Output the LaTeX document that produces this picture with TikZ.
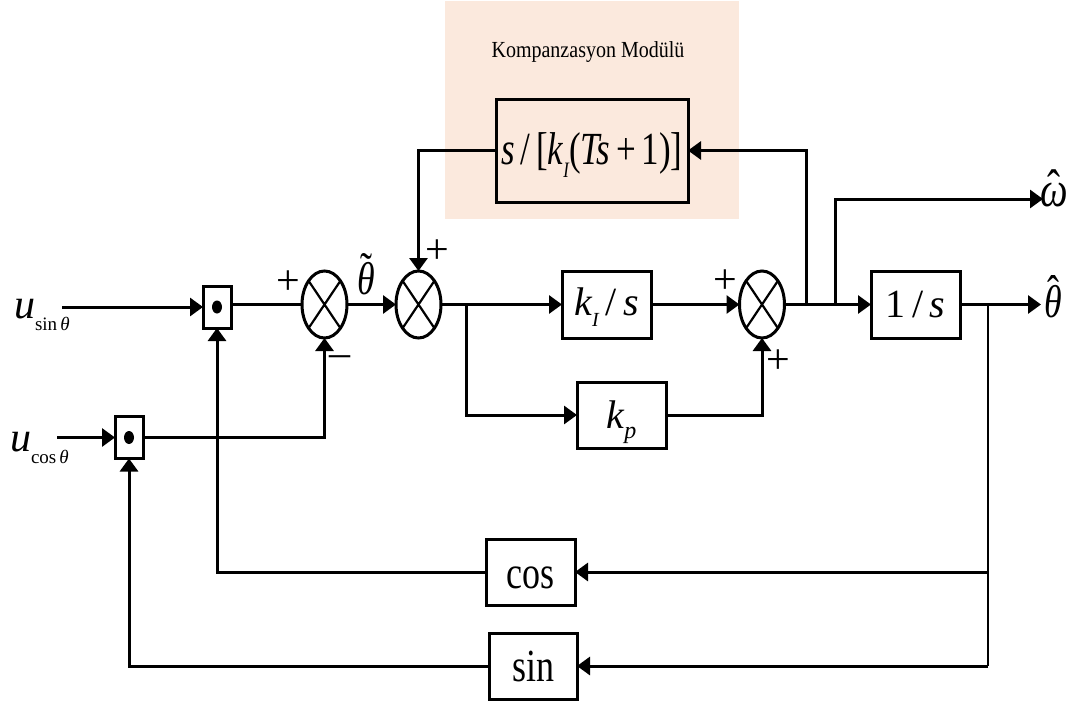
\documentclass[tikz,border=0pt]{standalone}
\usepackage{fontspec}
\usepackage{graphicx}
\setmainfont{Liberation Serif}
\usetikzlibrary{arrows.meta,shapes.geometric,calc}
\definecolor{peach}{HTML}{FBE9DD}
\newcommand{\fs}[1]{\fontsize{#1}{#1}\selectfont}
\newcommand{\accd}[3]{\scalebox{0.78}[1]{\ooalign{#3\cr\hfil\raisebox{#2}{\upshape #1}\hfil\cr}}}
\newcommand{\drop}[2]{\raisebox{-#1}[0pt][0pt]{#2}}
\tikzset{
 wire/.style={line width=3pt,line join=miter},
 thinwire/.style={line width=2.2pt},
 arr/.style={wire,-{Triangle[length=13pt,width=18pt]}},
 blockbox/.style={draw,line width=3pt,inner sep=0pt,outer sep=0pt,fill=white,font=\fs{40}},
 sumnode/.style={draw,ellipse,line width=3pt,inner sep=0pt,outer sep=0pt,minimum width=45pt,minimum height=67pt},
 txt/.style={inner sep=0pt,outer sep=0pt},
 signlabel/.style={txt,font=\fs{42}},
}
\newcommand{\sumx}[1]{\draw[line width=2.2pt] (#1.north west) -- (#1.south east) (#1.north east) -- (#1.south west);}
\begin{document}
\begin{tikzpicture}[x=1pt,y=-1pt]
\useasboundingbox (0,0) rectangle (1074,704);
\fill[peach] (445,1) rectangle (739,219);
\node[txt,font=\fs{23}] (title) at (588,52) {\scalebox{0.87}[1]{Kompanzasyon Modülü}};
\node[blockbox,fill=none,minimum width=192pt,minimum height=103pt,font=\fs{46}] (comp) at (592,150.5) {\drop{14pt}{\makebox[0pt]{\scalebox{0.76}[1]{\itshape s\,\upshape/\,[\itshape k\raisebox{-0.28em}{\fs{22}I}\upshape(\itshape Ts\upshape\,+\,1)]}}}};
\node[blockbox,minimum width=28pt,minimum height=42pt] (d1) at (217,307) {};
\node[blockbox,minimum width=28pt,minimum height=42pt] (d2) at (129,437.5) {};
\fill (d1.center) ellipse (5pt and 6.5pt) (d2.center) ellipse (5pt and 6.5pt);
\node[sumnode] (s1) at (324.5,304.5) {}; \sumx{s1}
\node[sumnode] (s2) at (418.5,304.5) {}; \sumx{s2}
\node[sumnode] (s3) at (762,304.5) {}; \sumx{s3}
\node[blockbox,minimum width=89pt,minimum height=67pt] (ki) at (606.5,304.5) {\drop{11pt}{\makebox[0pt]{\itshape k\raisebox{-0.28em}{\fs{20}I}\,\upshape/\,\itshape s}}};
\node[blockbox,minimum width=89pt,minimum height=66pt] (kp) at (621.5,415) {\drop{13pt}{\makebox[0pt]{\itshape k\raisebox{-0.25em}{\fs{24}p}}}};
\node[blockbox,minimum width=89pt,minimum height=67pt] (int) at (915.5,304.5) {\drop{13pt}{\makebox[0pt]{1\,/\,\itshape s}}};
\node[blockbox,minimum width=89pt,minimum height=66pt] (cosb) at (530.5,572) {\drop{16pt}{\makebox[0pt]{\scalebox{0.9}[1.15]{cos}}}};
\node[blockbox,minimum width=88pt,minimum height=66pt] (sinb) at (533,666) {\drop{15pt}{\makebox[0pt]{\scalebox{0.9}[1.15]{sin}}}};
% labels
\node[txt,anchor=base west,font=\fs{42}] (us) at (14,318) {\itshape u\raisebox{-0.3em}{\fs{19}\upshape sin\,\itshape θ}};
\node[txt,anchor=base west,font=\fs{42}] (uc) at (10,451) {\itshape u\raisebox{-0.3em}{\fs{19}\upshape cos\,\itshape θ}};
\coordinate (usin) at (62,307);
\coordinate (ucos) at (57,437.5);
\node[txt,font=\fs{46}\itshape] (thtilde) at (366,278) {\accd{˜}{0.2em}{θ}};
\node[txt,font=\fs{50}\itshape] (omhat) at (1054,195) {\accd{ˆ}{0.04em}{ω}};
\node[txt,font=\fs{46}\itshape] (thhat) at (1053,301) {\accd{ˆ}{0.2em}{θ}};
\coordinate (wend) at (1043,199);
\coordinate (tend) at (1041,304.5);
\node[signlabel] (p1) at (288,283) {+};
\node[signlabel] (p2) at (437,252) {+};
\node[signlabel] (p3) at (725,282) {+};
\node[signlabel] (p4) at (778,362) {+};
\node[signlabel] (m1) at (340,361) {–};
% junctions
\coordinate (jb) at (466,304.5);
\coordinate (jf) at (806,304.5);
\coordinate (jw) at (835,304.5);
\coordinate (jt) at (988,304.5);
\coordinate (jc) at (988,572);
\coordinate (js) at (988,666);
% connectors
\draw[arr] (usin) -- (d1.west);
\draw[arr] (ucos) -- (d2.west);
\draw[wire] (d1.east |- s1.west) -- (s1.west);
\draw[arr] (d2.east) -| (s1.south);
\draw[arr] (s1.east) -- (s2.west);
\draw[arr] (comp.west) -| (s2.north);
\draw[arr] (s2.east) -- (ki.west);
\draw[arr] (jb) |- (kp.west);
\draw[arr] (ki.east) -- (s3.west);
\draw[arr] (kp.east) -| (s3.south);
\draw[arr] (s3.east) -- (int.west);
\draw[arr] (jf) |- (comp.east);
\draw[arr] (jw) |- (wend);
\draw[arr] (int.east) -- (tend);
\draw[thinwire] (jt) -- (js);
\draw[arr] (jc) -- (cosb.east);
\draw[arr] (js) -- (sinb.east);
\draw[arr] (cosb.west) -| (d1.south);
\draw[arr] (sinb.west) -| (d2.south);
\end{tikzpicture}
\end{document}
